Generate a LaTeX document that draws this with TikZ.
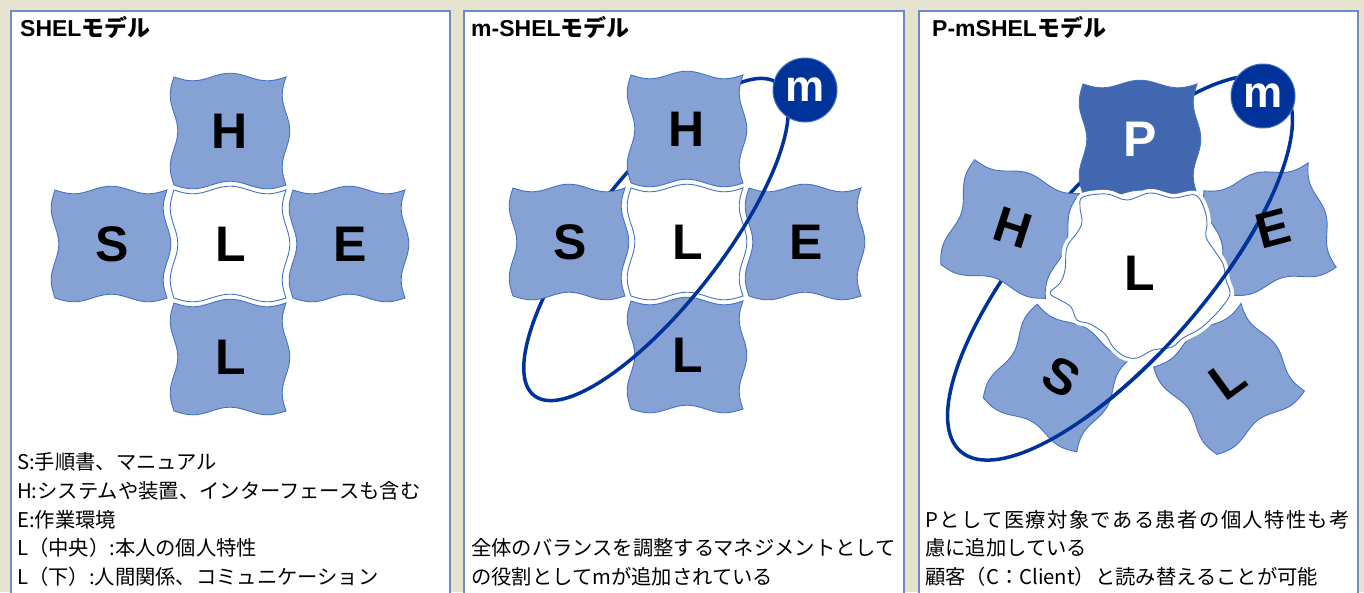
\documentclass[tikz,border=0pt]{standalone}
\usepackage{fontspec}
\newfontfamily\jp{Noto Sans CJK JP}
\newfontfamily\lat{Liberation Sans}
\definecolor{bgc}{RGB}{229,227,205}
\definecolor{panelc}{RGB}{108,140,200}
\definecolor{tilec}{RGB}{134,162,212}
\definecolor{tileline}{RGB}{68,114,196}
\definecolor{pc}{RGB}{66,103,177}
\definecolor{ringc}{RGB}{0,51,153}
\definecolor{mline}{RGB}{70,110,190}
\tikzset{
 panel/.style={draw=panelc, line width=1.5pt, fill=white},
 tilebox/.style={fill=tilec, draw=tileline, line width=0.9pt},
 whitebox/.style={fill=white, draw=tileline, line width=0.9pt},
 halo/.style={draw=white, line width=8pt},
 pbox/.style={fill=pc, draw=tileline, line width=0.9pt},
 letter/.style={font=\lat\bfseries\fontsize{50}{50}\selectfont, text=black, inner sep=0pt},
 ring/.style={draw=ringc, line width=3.5pt},
 mdot/.style={circle, fill=ringc, draw=mline, line width=1pt, minimum size=64pt, inner sep=0pt, font=\lat\bfseries\fontsize{44}{44}\selectfont, text=white},
 title/.style={anchor=west, inner sep=0pt, font=\fontsize{23}{23}\selectfont},
 body/.style={anchor=west, inner sep=0pt, font=\jp\fontsize{20.3}{20.3}\selectfont},
}
% #1 cx, #2 cy, #3 rotation, #4 half width, #5 half height, #6 style
\newcommand\wtile[6]{%
\begin{scope}[shift={(#1,#2)},rotate=#3]
\path[#6]
 plot[domain=-#4:#4,samples=31,smooth] ({\x},{-#5+3.8*sin(((\x+#4)/#4)*270)})
 -- plot[domain=-#5:#5,samples=31,smooth] ({#4-3.8*sin(((\x+#5)/#5)*270)},{\x})
 -- plot[domain=#4:-#4,samples=31,smooth] ({\x},{#5+3.8*sin(((\x+#4)/#4)*270)})
 -- plot[domain=#5:-#5,samples=31,smooth] ({-#4-3.8*sin(((\x+#5)/#5)*270)},{\x})
 -- cycle;
\end{scope}}
\newcommand\centershape{plot[smooth cycle,tension=0.6] coordinates {
 (1083,197) (1107,194) (1127,200) (1150,193) (1173,198) (1195,195)
 (1204,208) (1207,223) (1206,237) (1214,250) (1223,264) (1226,280) (1230,294)
 (1222,307) (1210,320) (1198,330) (1183,338) (1172,347) (1153,350) (1137,358)
 (1124,356) (1113,347) (1105,334) (1090,324) (1077,320) (1071,307) (1060,300)
 (1050,293) (1060,283) (1065,270) (1067,247) (1077,233) (1082,222) (1080,207)}}
\newcommand\ringthree{(1120,268) ellipse [x radius=243pt, y radius=87pt]}
\begin{document}
\begin{tikzpicture}[x=1pt,y=-1pt]
\useasboundingbox (0,0) rectangle (1364,592);
\clip (0,0) rectangle (1364,592);
\fill[bgc] (0,0) rectangle (1364,592);
% panels
\path[panel] (11,11) rectangle (450,610);
\path[panel] (464,11) rectangle (904,610);
\path[panel] (919,11) rectangle (1358,610);
% titles
\node[title] (t1) at (20,27) {{\lat\bfseries SHEL}{\jp\bfseries モデル}};
\node[title] (t2) at (471,27) {{\lat\bfseries m-SHEL}{\jp\bfseries モデル}};
\node[title] (t3) at (932,27) {{\lat\bfseries P-mSHEL}{\jp\bfseries モデル}};

% ---------------- panel 1
\wtile{230}{131}{0}{56}{54}{tilebox}
\wtile{111}{244}{0}{56}{54}{tilebox}
\wtile{230}{244}{0}{56}{54}{whitebox}
\wtile{349}{244}{0}{56}{54}{tilebox}
\wtile{230}{357}{0}{56}{54}{tilebox}
\node[letter] (aH) at (230,131) {H};
\node[letter] (aS) at (112,244) {S};
\node[letter] (aL) at (231,244) {L};
\node[letter] (aE) at (350,244) {E};
\node[letter] (aL2) at (231,357) {L};
\node[body] (a1) at (17,462) {S:手順書、マニュアル};
\node[body] (a2) at (17,491) {H:システムや装置、インターフェースも含む};
\node[body] (a3) at (17,520) {E:作業環境};
\node[body] (a4) at (17,548) {L（中央）:本人の個人特性};
\node[body] (a5) at (17,577) {L（下）:人間関係、コミュニケーション};

% ---------------- panel 2
\wtile{687}{242}{0}{56}{54}{whitebox}
\wtile{805}{242}{0}{56}{54}{tilebox}
\wtile{687}{355}{0}{56}{54}{tilebox}
\draw[ring, rotate around={52:(656,239.5)}] (656,239.5) ellipse [x radius=198pt, y radius=65pt];
\wtile{687}{129}{0}{56}{54}{tilebox}
\wtile{569}{242}{0}{56}{54}{tilebox}
\node[letter] (bH) at (687,129) {H};
\node[letter] (bS) at (570,242) {S};
\node[letter] (bL) at (688,242) {L};
\node[letter] (bE) at (806,242) {E};
\node[letter] (bL2) at (688,355) {L};
\node[mdot] (bm) at (805,90) {m};
\node[body] (b1) at (471,548) {全体のバランスを調整するマネジメントとして};
\node[body] (b2) at (471,577) {の役割としてmが追加されている};

% ---------------- panel 3
\wtile{1270}{229}{15}{54}{54}{tilebox}
\wtile{1057}{378}{-30}{54}{54}{tilebox}
\wtile{1229}{379}{36}{54}{54}{tilebox}
\draw[ring, rotate around={49:(1120,268)}] \ringthree;
\wtile{1010}{229}{-18}{55}{55}{tilebox}
\wtile{1140}{139}{0}{57}{55}{pbox}
\path[halo] \centershape;
\path[whitebox] \centershape;
\begin{scope}
\clip (1085,199) rectangle (1300,470);
\draw[ring, rotate around={49:(1120,268)}] \ringthree;
\end{scope}
\node[letter, rotate=-18] (cH) at (1013,228) {H};
\node[letter, rotate=15] (cE) at (1273,229) {E};
\node[letter, rotate=-30] (cS) at (1062,377) {S};
\node[letter, rotate=36] (cL2) at (1228,380) {L};
\node[letter] (cL) at (1140,273) {L};
\node[letter, text=white] (cP) at (1140,139) {P};
\node[mdot] (cm) at (1263,96) {m};
\node[body] (c1) at (925,520) {\addfontfeature{LetterSpace=7}Pとして医療対象である患者の個人特性も考};
\node[body] (c2) at (925,548) {慮に追加している};
\node[body] (c3) at (925,577) {顧客（C：Client）と読み替えることが可能};
\end{tikzpicture}
\end{document}
